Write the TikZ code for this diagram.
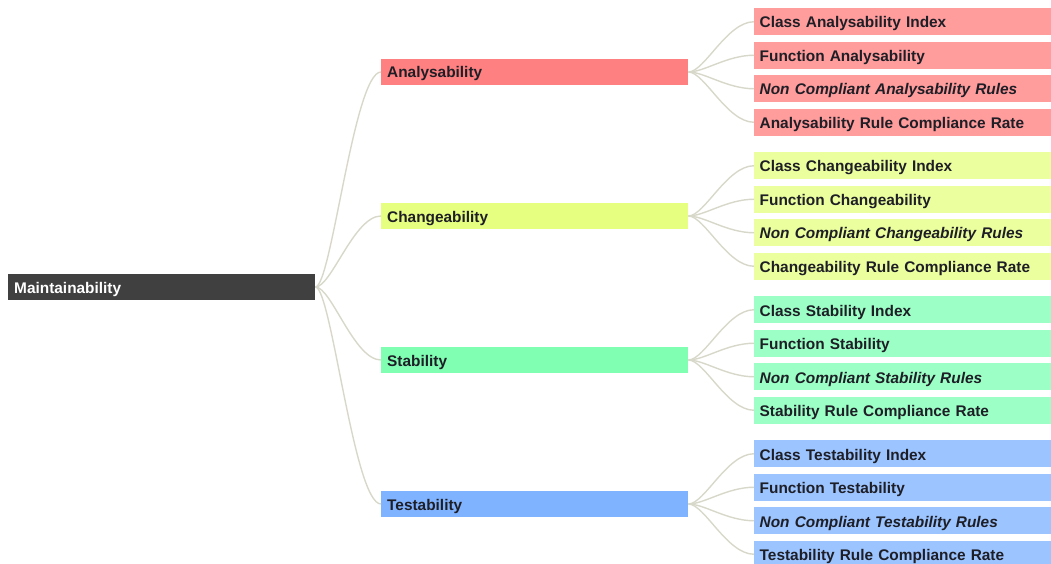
\documentclass[tikz,border=0pt]{standalone}
\usepackage{fontspec}
\setmainfont{Liberation Sans}
\definecolor{ink}{HTML}{1E1E26}
\definecolor{rootgray}{HTML}{404040}
\definecolor{linkgray}{HTML}{D8D8CA}
\definecolor{anaA}{HTML}{FF8080}\definecolor{anaB}{HTML}{FF9C9C}
\definecolor{chgA}{HTML}{E6FF80}\definecolor{chgB}{HTML}{EBFF9E}
\definecolor{stbA}{HTML}{80FFB3}\definecolor{stbB}{HTML}{9CFFC6}
\definecolor{tstA}{HTML}{80B3FF}\definecolor{tstB}{HTML}{9CC4FF}

\begin{document}
\begin{tikzpicture}[x=1pt,y=1pt,font=\fontsize{15.4}{18}\selectfont\bfseries,
  topic/.style={anchor=west,inner xsep=6pt,inner ysep=0pt,minimum height=26pt,
    text width=295pt,text height=12pt,text depth=0pt,align=left,text=ink},
  item/.style={topic,minimum height=27pt,inner xsep=5.5pt,text width=286pt,text height=12.5pt},
  link/.style={draw=linkgray,line width=1.4pt}]
  \useasboundingbox (0,0) rectangle (1051,563);
  \node[topic,fill=rootgray,text=white] (maint) at (8,276) {Maintainability};
  \foreach \nm/\y/\col in {Analysability/491/ana,Changeability/347/chg,Stability/203/stb,Testability/59/tst}{
    \node[topic,fill=\col A] (\col) at (381,\y) {\nm};
    \draw[link] (maint.east) .. controls +(16,0) and +(-27,0) .. (\col.west);
    \node[item,fill=\col B] (\col1) at (754,\y+50.25) {Class \nm\ Index};
    \node[item,fill=\col B] (\col2) at (754,\y+16.75) {Function \nm};
    \node[item,fill=\col B] (\col3) at (754,\y-16.75) {\itshape Non Compliant \nm\ Rules};
    \node[item,fill=\col B] (\col4) at (754,\y-50.25) {\nm\ Rule Compliance Rate};
    \foreach \k in {1,...,4}{\draw[link] (\col.east) .. controls +(16,0) and +(-27,0) .. (\col\k.west);}
  }
\end{tikzpicture}
\end{document}
